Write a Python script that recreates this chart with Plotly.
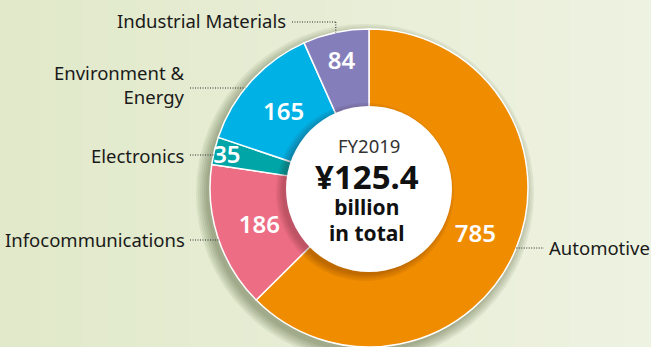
import math
import plotly.graph_objects as go

# Sales by segment, FY2019 (¥ hundred million)
segments = ["Automotive", "Infocommunications", "Electronics",
            "Environment & Energy", "Industrial Materials"]
values = [785, 186, 35, 165, 84]
colors = ["#ef8c00", "#ec6d84", "#00a5a8", "#00b1e6", "#847fbb"]

W, H = 651, 347
CX, CY, R = 369, 188, 159          # donut centre / radius in pixels
HOLE_R = 83                        # white centre disc radius


def px(x):
    return x / W


def py(y):
    return 1 - y / H


def circle(cx, cy, r, color, layer="above"):
    return dict(type="circle", xref="paper", yref="paper",
                x0=px(cx - r), x1=px(cx + r), y0=py(cy + r), y1=py(cy - r),
                fillcolor=color, line=dict(width=0), layer=layer)


shapes = []

# soft horizontal background gradient
left, right = (0xe1, 0xe9, 0xca), (0xee, 0xf2, 0xe1)
n = 48
for i in range(n):
    t = i / (n - 1)
    c = tuple(round(a + (b - a) * t) for a, b in zip(left, right))
    shapes.append(dict(type="rect", xref="paper", yref="paper",
                       x0=i / n, x1=(i + 1) / n + 0.002, y0=0, y1=1,
                       fillcolor="rgb(%d,%d,%d)" % c, line=dict(width=0),
                       layer="below"))

# drop shadow under the donut
for dr in (10, 8, 6, 4, 2, 0):
    shapes.append(circle(CX - 4, CY + 5, R + dr, "rgba(40,50,20,0.07)", "below"))

# shadow and white disc in the middle
for dr in (6, 4, 2, 0):
    shapes.append(circle(CX - 4, CY + 4, HOLE_R + dr, "rgba(60,20,20,0.07)"))
shapes.append(circle(CX, CY + 1, HOLE_R, "#ffffff"))

# dotted leader lines from the labels to the donut rim
def rim_x(y, side):
    return CX + side * math.sqrt(R ** 2 - (y - CY) ** 2)


def dotted(x0, y0, x1, y1):
    return dict(type="line", xref="paper", yref="paper",
                x0=px(x0), y0=py(y0), x1=px(x1), y1=py(y1),
                line=dict(color="#2a2a2a", width=1, dash="1px,1.5px"),
                layer="above")


total = sum(values)
start = sum(values[:4]) / total * 360
mid_ind = math.radians(start + values[4] / total * 180)
ind_x = CX + R * math.sin(mid_ind)
ind_y = CY - R * math.cos(mid_ind)

shapes += [
    dotted(292, 22, ind_x, 22),
    dotted(ind_x, 22, ind_x, ind_y),
    dotted(190, 88, rim_x(88, -1), 88),
    dotted(190, 155, rim_x(155, -1), 155),
    dotted(190, 240, rim_x(240, -1), 240),
    dotted(rim_x(248, 1), 248, 544, 248),
]

pie = go.Pie(
    labels=segments, values=values, sort=False, direction="clockwise",
    rotation=0, hole=0.45,
    marker=dict(colors=colors, line=dict(color="#ffffff", width=1.5)),
    textinfo="value", textposition="inside",
    insidetextorientation="horizontal",
    textfont=dict(family="Noto Sans", size=24, color="#ffffff", weight=600),
    domain=dict(x=[px(CX - R), px(CX + R)], y=[0, py(CY - R)]),
    showlegend=False, hoverinfo="label+value",
)

fig = go.Figure(pie)

lab_font = dict(family="Noto Sans", size=18.5, color="#1a1a1a")
annotations = [
    dict(text="Industrial Materials", x=px(288), y=py(21), xanchor="right"),
    dict(text="Environment &<br>Energy", x=px(187), y=py(84), xanchor="right",
         align="right"),
    dict(text="Electronics", x=px(187), y=py(155), xanchor="right"),
    dict(text="Infocommunications", x=px(187), y=py(239), xanchor="right"),
    dict(text="Automotive", x=px(547), y=py(247), xanchor="left"),
]
for a in annotations:
    a.update(xref="paper", yref="paper", yanchor="middle", showarrow=False,
             font=lab_font)

# centre caption: year, then the total with its unit
annotations.append(dict(text="FY2019", x=px(369), y=py(145),
                        xref="paper", yref="paper", xanchor="center",
                        yanchor="middle", showarrow=False,
                        font=dict(family="Noto Sans", size=18.5,
                                  color="#333333")))
total_text = ("<span style='font-size:33px'>¥125.4</span><br>"
              "<span style='font-size:21px'>billion</span><br>"
              "<span style='font-size:21px'>in total</span>")
annotations.append(dict(text=total_text, x=px(367), y=py(201),
                        xref="paper", yref="paper", xanchor="center",
                        yanchor="middle", align="center", showarrow=False,
                        font=dict(family="Noto Sans", size=20,
                                  color="#111111", weight=700)))

fig.update_layout(
    width=W, height=H, margin=dict(l=0, r=0, t=0, b=0),
    paper_bgcolor="#e8eed6",
    shapes=shapes, annotations=annotations,
    uniformtext=dict(minsize=24, mode="show"),
)

fig.write_html("out.html")
